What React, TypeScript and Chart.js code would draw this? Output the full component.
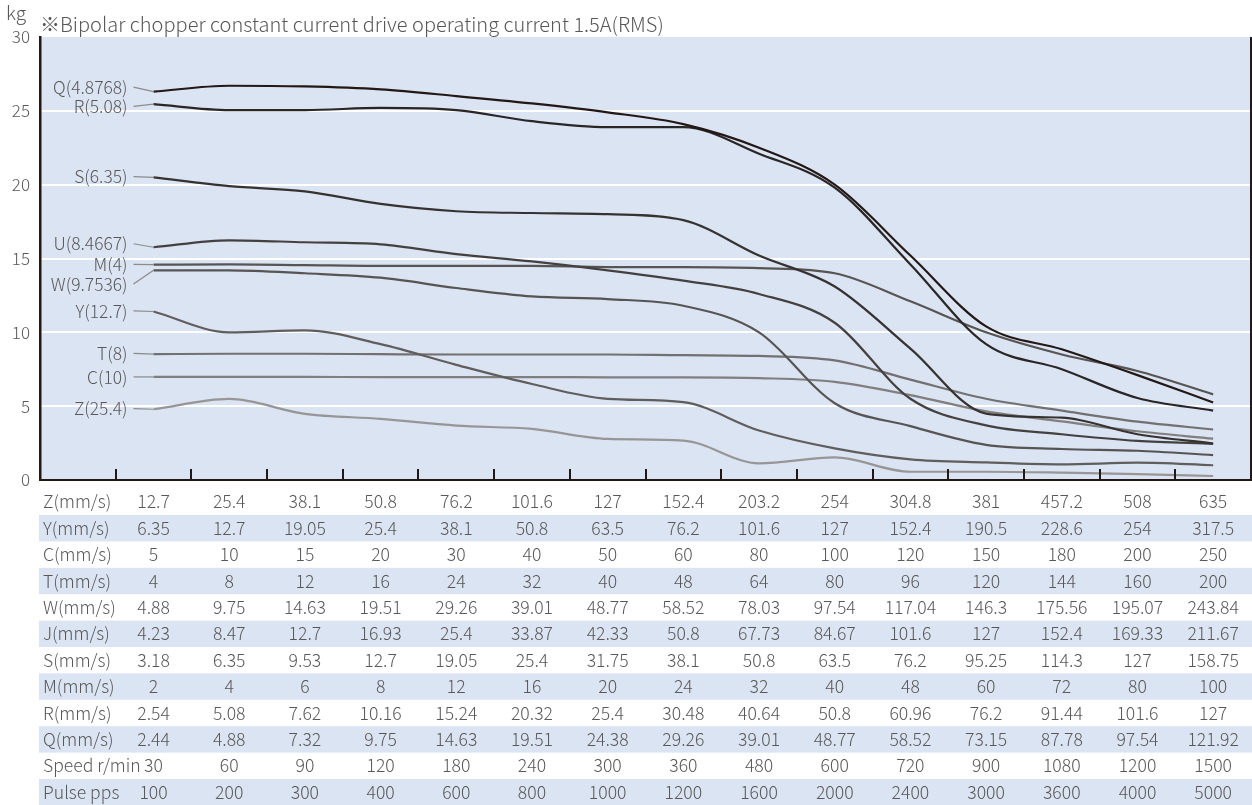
import React, { useEffect, useRef } from 'react';
import { Chart, registerables } from 'chart.js';

Chart.register(...registerables);

const FONT = "'Noto Sans CJK JP', 'Noto Sans', sans-serif";
const TEXT_COLOR = '#595757';
const AXIS_COLOR = '#231815';
const PLOT_BG = '#dbe4f2';

const unitLabel = 'kg';
const chartTitle = '※Bipolar chopper constant current drive operating current 1.5A(RMS)';

// x categories: first slot is the label column, then Speed r/min
const speedCategories = ['', '30', '60', '90', '120', '180', '240', '300', '360', '480', '600', '720', '900', '1080', '1200', '1500'];

const yTicksMax = 30;
const yTickStep = 5;

// thrust values (kg)
const seriesQ = [26.3, 26.7, 26.65, 26.45, 26.0, 25.5, 24.9, 24.1, 22.5, 20.0, 15.2, 10.4, 8.85, 7.1, 5.25];
const seriesR = [25.45, 25.05, 25.05, 25.2, 25.05, 24.3, 23.9, 23.9, 22.1, 19.8, 14.6, 9.2, 7.5, 5.55, 4.7];
const seriesS = [20.5, 19.9, 19.55, 18.7, 18.2, 18.08, 18.0, 17.6, 15.2, 13.1, 8.9, 4.5, 4.22, 3.1, 2.47];
const seriesU = [15.76, 16.23, 16.1, 15.96, 15.3, 14.8, 14.2, 13.5, 12.6, 10.65, 5.5, 3.7, 3.1, 2.65, 2.45];
const seriesM = [14.58, 14.6, 14.55, 14.5, 14.5, 14.5, 14.42, 14.42, 14.35, 14.0, 12.1, 10.0, 8.5, 7.38, 5.8];
const seriesW = [14.2, 14.2, 14.0, 13.7, 13.0, 12.43, 12.25, 11.8, 10.0, 5.2, 3.65, 2.38, 2.1, 1.98, 1.69];
const seriesY = [11.41, 10.0, 10.13, 9.2, 7.8, 6.5, 5.5, 5.27, 3.35, 2.14, 1.4, 1.19, 1.06, 1.17, 1.0];
const seriesT = [8.52, 8.55, 8.55, 8.52, 8.5, 8.5, 8.5, 8.45, 8.4, 8.1, 6.8, 5.5, 4.7, 3.95, 3.42];
const seriesC = [6.98, 6.98, 6.98, 6.97, 6.97, 6.97, 6.95, 6.95, 6.9, 6.65, 5.75, 4.65, 3.97, 3.3, 2.8];
const seriesZ = [4.79, 5.49, 4.48, 4.14, 3.68, 3.46, 2.78, 2.67, 1.13, 1.53, 0.56, 0.56, 0.5, 0.4, 0.27];

const seriesNames = ['Q(4.8768)', 'R(5.08)', 'S(6.35)', 'U(8.4667)', 'M(4)', 'W(9.7536)', 'Y(12.7)', 'T(8)', 'C(10)', 'Z(25.4)'];
const seriesValues = [seriesQ, seriesR, seriesS, seriesU, seriesM, seriesW, seriesY, seriesT, seriesC, seriesZ];
const seriesColors = ['#231815', '#2a2626', '#363232', '#444040', '#575454', '#575454', '#605d5d', '#727070', '#807e7e', '#979595'];
const labelAnchors = [26.6, 25.3, 20.55, 16.0, 14.6, 13.27, 11.45, 8.57, 6.98, 4.84];

// table rows
const rowZ = ['12.7', '25.4', '38.1', '50.8', '76.2', '101.6', '127', '152.4', '203.2', '254', '304.8', '381', '457.2', '508', '635'];
const rowY = ['6.35', '12.7', '19.05', '25.4', '38.1', '50.8', '63.5', '76.2', '101.6', '127', '152.4', '190.5', '228.6', '254', '317.5'];
const rowC = ['5', '10', '15', '20', '30', '40', '50', '60', '80', '100', '120', '150', '180', '200', '250'];
const rowT = ['4', '8', '12', '16', '24', '32', '40', '48', '64', '80', '96', '120', '144', '160', '200'];
const rowW = ['4.88', '9.75', '14.63', '19.51', '29.26', '39.01', '48.77', '58.52', '78.03', '97.54', '117.04', '146.3', '175.56', '195.07', '243.84'];
const rowJ = ['4.23', '8.47', '12.7', '16.93', '25.4', '33.87', '42.33', '50.8', '67.73', '84.67', '101.6', '127', '152.4', '169.33', '211.67'];
const rowS = ['3.18', '6.35', '9.53', '12.7', '19.05', '25.4', '31.75', '38.1', '50.8', '63.5', '76.2', '95.25', '114.3', '127', '158.75'];
const rowM = ['2', '4', '6', '8', '12', '16', '20', '24', '32', '40', '48', '60', '72', '80', '100'];
const rowR = ['2.54', '5.08', '7.62', '10.16', '15.24', '20.32', '25.4', '30.48', '40.64', '50.8', '60.96', '76.2', '91.44', '101.6', '127'];
const rowQ = ['2.44', '4.88', '7.32', '9.75', '14.63', '19.51', '24.38', '29.26', '39.01', '48.77', '58.52', '73.15', '87.78', '97.54', '121.92'];
const rowSpeed = ['30', '60', '90', '120', '180', '240', '300', '360', '480', '600', '720', '900', '1080', '1200', '1500'];
const rowPulse = ['100', '200', '300', '400', '600', '800', '1000', '1200', '1600', '2000', '2400', '3000', '3600', '4000', '5000'];

const tableLabels = ['Z(mm/s)', 'Y(mm/s)', 'C(mm/s)', 'T(mm/s)', 'W(mm/s)', 'J(mm/s)', 'S(mm/s)', 'M(mm/s)', 'R(mm/s)', 'Q(mm/s)', 'Speed r/min', 'Pulse pps'];
const tableRows = [rowZ, rowY, rowC, rowT, rowW, rowJ, rowS, rowM, rowR, rowQ, rowSpeed, rowPulse];

const W = 1252;
const H = 805;

const decorPlugin = {
  id: 'decor',
  beforeDraw(chart: any) {
    const { ctx, chartArea: a } = chart;
    ctx.save();
    ctx.fillStyle = PLOT_BG;
    ctx.fillRect(a.left, a.top, a.right - a.left, a.bottom - a.top);
    ctx.restore();
  },
  afterDraw(chart: any) {
    const { ctx, chartArea: a, scales } = chart;
    const xs = scales.x;
    const ys = scales.y;
    ctx.save();

    // right border
    ctx.strokeStyle = AXIS_COLOR;
    ctx.lineWidth = 2;
    ctx.beginPath();
    ctx.moveTo(a.right, a.top);
    ctx.lineTo(a.right, a.bottom);
    ctx.stroke();

    // inner tick marks at column boundaries
    for (let i = 1; i < speedCategories.length; i++) {
      const bx = Math.round((xs.getPixelForValue(i - 1) + xs.getPixelForValue(i)) / 2);
      ctx.beginPath();
      ctx.moveTo(bx, a.bottom);
      ctx.lineTo(bx, a.bottom - 11);
      ctx.stroke();
    }

    // titles
    ctx.fillStyle = TEXT_COLOR;
    ctx.textBaseline = 'middle';
    ctx.textAlign = 'left';
    ctx.font = `300 19px ${FONT}`;
    ctx.fillText(unitLabel, 6, 13);
    ctx.font = `300 20px ${FONT}`;
    ctx.fillText(chartTitle, 40, 24);

    // series labels with leader lines
    ctx.font = `300 17.4px ${FONT}`;
    ctx.textAlign = 'right';
    const firstX = xs.getPixelForValue(1);
    seriesNames.forEach((name, i) => {
      const ly = ys.getPixelForValue(labelAnchors[i]);
      const py = ys.getPixelForValue(seriesValues[i][0]);
      ctx.strokeStyle = '#8c8a8a';
      ctx.lineWidth = 1.2;
      ctx.beginPath();
      ctx.moveTo(firstX - 20, ly);
      ctx.lineTo(firstX, py);
      ctx.stroke();
      ctx.fillStyle = TEXT_COLOR;
      ctx.fillText(name, firstX - 26, ly);
    });

    // table
    const rowH = 26.4;
    const top0 = a.bottom + 8.6;
    tableRows.forEach((row, r) => {
      const ry = top0 + r * rowH;
      if (r % 2 === 1) {
        ctx.fillStyle = PLOT_BG;
        ctx.fillRect(a.left - 1, ry, W - (a.left - 1), rowH);
      }
      ctx.fillStyle = TEXT_COLOR;
      ctx.font = `300 17.6px ${FONT}`;
      ctx.textAlign = 'left';
      ctx.fillText(tableLabels[r], a.left + 3, ry + rowH / 2);
      ctx.textAlign = 'center';
      row.forEach((txt, c) => {
        ctx.fillText(txt, xs.getPixelForValue(c + 1), ry + rowH / 2);
      });
    });

    ctx.restore();
  },
};

export default function App() {
  const canvasRef = useRef<HTMLCanvasElement | null>(null);

  useEffect(() => {
    if (!canvasRef.current) return;
    const datasets = seriesValues.map((vals, i) => ({
      label: seriesNames[i],
      data: [null, ...vals],
      borderColor: seriesColors[i],
      backgroundColor: seriesColors[i],
      borderWidth: 2.2,
      pointRadius: 0,
      cubicInterpolationMode: 'monotone' as const,
      fill: false,
    }));
    const chart = new Chart(canvasRef.current, {
      type: 'line',
      data: { labels: speedCategories, datasets },
      options: {
        animation: false,
        responsive: false,
        devicePixelRatio: 1,
        layout: { padding: { top: 37, bottom: 325, left: 0, right: 1 } },
        plugins: { legend: { display: false }, tooltip: { enabled: false }, title: { display: false } },
        scales: {
          x: {
            type: 'category',
            offset: true,
            grid: { display: false },
            border: { display: true, color: AXIS_COLOR, width: 2 },
            ticks: { display: false },
            afterFit: (s: any) => { s.height = 0; },
          },
          y: {
            min: 0,
            max: yTicksMax,
            ticks: {
              stepSize: yTickStep,
              padding: 10,
              color: TEXT_COLOR,
              font: { family: FONT, size: 17, weight: 300 as any },
            },
            grid: {
              drawTicks: false,
              lineWidth: 2,
              color: (c: any) => (c.tick && (c.tick.value === 0 || c.tick.value === yTicksMax) ? 'rgba(0,0,0,0)' : '#ffffff'),
            },
            border: { display: true, color: AXIS_COLOR, width: 2.5 },
            afterFit: (s: any) => { s.width = 40; },
          },
        },
      },
      plugins: [decorPlugin],
    });
    return () => chart.destroy();
  }, []);

  return (
    <div style={{ position: 'fixed', left: 0, top: 0, width: W, height: H, background: '#fff' }}>
      <canvas ref={canvasRef} width={W} height={H} style={{ width: W, height: H, display: 'block' }} />
    </div>
  );
}
